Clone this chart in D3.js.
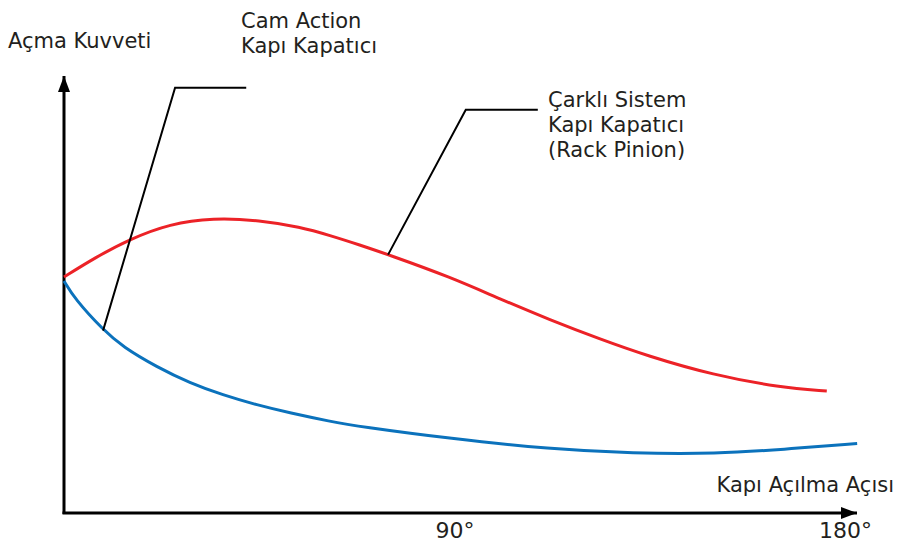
<!DOCTYPE html>
<html>
<head>
<meta charset="utf-8">
<script src="https://cdn.jsdelivr.net/npm/d3@7"></script>
<style>
  body { margin: 0; background: #fff; }
  text { font-family: "DejaVu Sans", sans-serif; fill: #231f20; }
</style>
</head>
<body>
<script>
// kapı açılma açısı (derece)
var acilarKirmizi = [0, 7.1, 15.2, 24.4, 34.3, 45.2, 54.4, 61.3, 68.2, 74.7, 89, 100.5, 112, 123.5, 134.4, 149.6, 165, 175.8]
// çarklı sistem (rack pinion) açma kuvveti
var kuvvetKirmizi = [59, 63.8, 68.5, 72.3, 73.8, 73.2, 71.5, 69.4, 67, 64.6, 59, 53.5, 48.3, 43.5, 39.3, 34.5, 31.4, 30.5]

var acilarMavi = [0, 2.5, 9, 13.6, 21.4, 29, 36.6, 44.5, 52.1, 61.3, 68.2, 89, 112, 131.1, 150.5, 165.7, 182.8]
// cam action açma kuvveti
var kuvvetMavi = [58, 53.5, 45.8, 41.5, 36.5, 32.5, 29.5, 27, 25, 22.9, 21.6, 18.6, 16, 14.9, 14.8, 15.9, 17.4]

var eksenEtiketleri = [90, 180]

// açıklama çizgileri: [açı, kuvvet] noktaları
var camCizgi = [[9, 45.6], [25.6, 106.3], [42, 106.3]]
var rackCizgi = [[74.7, 64.6], [92.6, 100.8], [109.2, 100.8]]

var width = 901
var height = 552
var margin = { top: 76, bottom: 39, left: 64, right: 44 }

var escalaX = d3.scaleLinear()
    .domain([0, 180])
    .range([margin.left, 845])

var escalaY = d3.scaleLinear()
    .domain([0, 100])
    .range([height - margin.bottom, 113])

var svg = d3.select("body")
    .append("svg")
    .attr("width", width)
    .attr("height", height)

var defs = svg.append("defs")
defs.append("marker")
    .attr("id", "ok")
    .attr("viewBox", "0 0 16 12")
    .attr("refX", 16)
    .attr("refY", 6)
    .attr("markerWidth", 16)
    .attr("markerHeight", 12)
    .attr("markerUnits", "userSpaceOnUse")
    .attr("orient", "auto")
    .append("path")
    .attr("d", "M0,0 L16,6 L0,12 Z")
    .attr("fill", "#000")

var y0 = escalaY(0)

// eksenler
svg.append("line")
    .attr("x1", margin.left).attr("y1", y0 + 1)
    .attr("x2", margin.left).attr("y2", margin.top)
    .attr("stroke", "#000").attr("stroke-width", 3)
    .attr("marker-end", "url(#ok)")

svg.append("line")
    .attr("x1", margin.left - 1.5).attr("y1", y0)
    .attr("x2", 857).attr("y2", y0)
    .attr("stroke", "#000").attr("stroke-width", 3)
    .attr("marker-end", "url(#ok)")

var ejeX = d3.axisBottom(escalaX)
    .tickValues(eksenEtiketleri)
    .tickSize(0)
    .tickPadding(9)
    .tickFormat(d => d + "°")

var gx = svg.append("g")
    .attr("transform", "translate(0," + y0 + ")")
    .call(ejeX)
gx.select(".domain").remove()
gx.selectAll("text")
    .style("font-size", "22px")
    .style("font-family", "'DejaVu Sans', sans-serif")
    .attr("fill", "#231f20")

var linea = d3.line()
    .curve(d3.curveBasis)
    .x(d => escalaX(d[0]))
    .y(d => escalaY(d[1]))

svg.append("path")
    .datum(d3.zip(acilarMavi, kuvvetMavi))
    .attr("fill", "none")
    .attr("stroke", "#0b72bc")
    .attr("stroke-width", 3)
    .attr("d", linea)

svg.append("path")
    .datum(d3.zip(acilarKirmizi, kuvvetKirmizi))
    .attr("fill", "none")
    .attr("stroke", "#ec2227")
    .attr("stroke-width", 3)
    .attr("d", linea)

var lineaRecta = d3.line()
    .x(d => escalaX(d[0]))
    .y(d => escalaY(d[1]))

svg.selectAll(".aciklama")
    .data([camCizgi, rackCizgi])
    .enter()
    .append("path")
    .attr("class", "aciklama")
    .attr("fill", "none")
    .attr("stroke", "#000")
    .attr("stroke-width", 2)
    .attr("d", lineaRecta)

// yazılar
function yazi(x, y, satirlar, anchor) {
    var t = svg.append("text")
        .attr("x", x).attr("y", y)
        .attr("text-anchor", anchor || "start")
        .style("font-size", "21px")
    satirlar.forEach(function(s, i) {
        t.append("tspan")
            .attr("x", x)
            .attr("dy", i == 0 ? 0 : 25)
            .text(s)
    })
}

yazi(8, 48, ["Açma Kuvveti"])
yazi(241, 28, ["Cam Action", "Kapı Kapatıcı"])
yazi(548, 107, ["Çarklı Sistem", "Kapı Kapatıcı", "(Rack Pinion)"])
yazi(894, 492, ["Kapı Açılma Açısı"], "end")
</script>
</body>
</html>
